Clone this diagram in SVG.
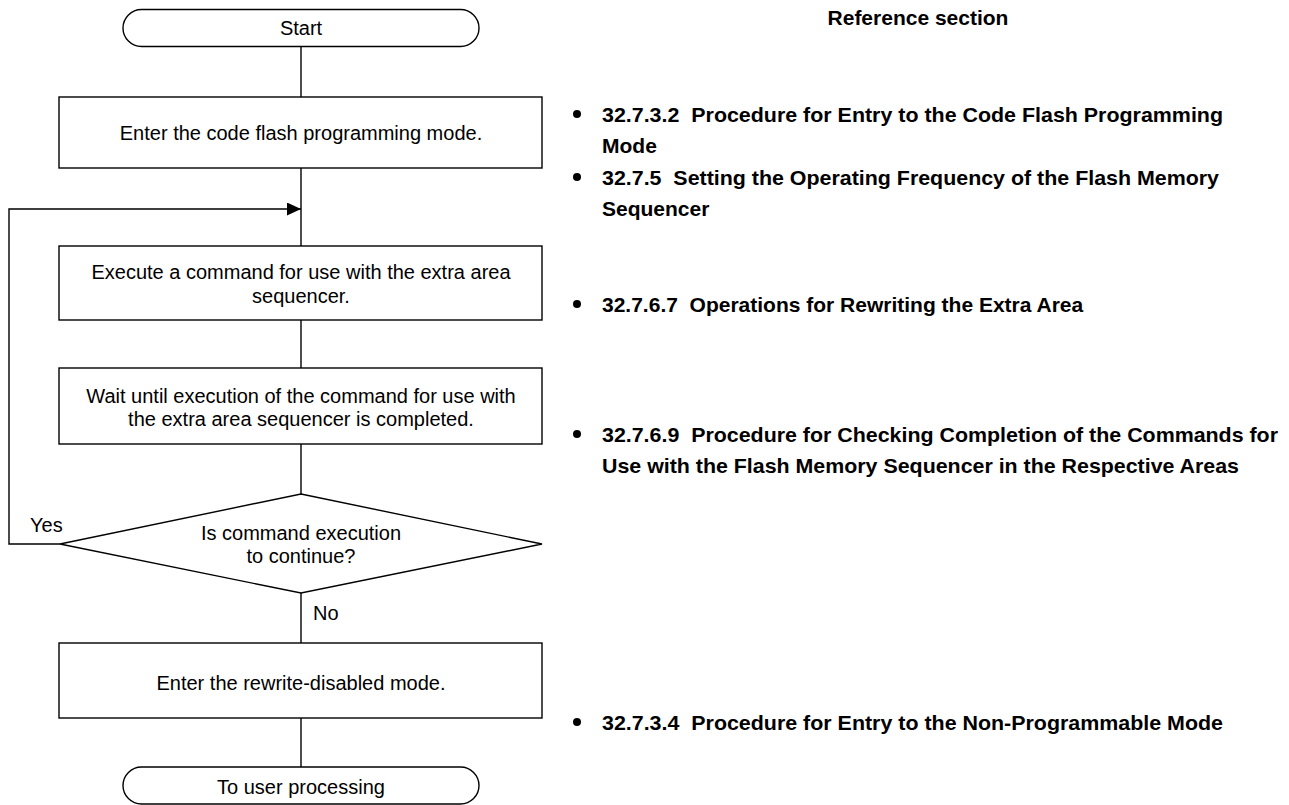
<svg xmlns="http://www.w3.org/2000/svg" width="1289" height="805" viewBox="0 0 1289 805">
<style>
.shape{fill:#fff;stroke:#000;stroke-width:1.4}
.conn{fill:none;stroke:#000;stroke-width:1.4}
.t{font-family:"Liberation Sans",Arial,sans-serif;font-size:20px;fill:#000;text-anchor:middle}
.lbl{font-family:"Liberation Sans",Arial,sans-serif;font-size:20px;fill:#000}
.r{font-family:"Liberation Sans",Arial,sans-serif;font-size:21px;font-weight:bold;fill:#000;white-space:pre}
</style>
<defs>
<marker id="ah" markerWidth="14" markerHeight="13" refX="14" refY="6.5" orient="auto" markerUnits="userSpaceOnUse">
<path d="M0,0 L14,6.5 L0,13 Z" fill="#000"/>
</marker>
</defs>
<rect width="1289" height="805" fill="#fff"/>
<g id="connectors">
<line class="conn" x1="301" y1="46.5" x2="301" y2="97"/>
<line class="conn" x1="301" y1="168" x2="301" y2="246"/>
<line class="conn" x1="301" y1="320" x2="301" y2="368"/>
<line class="conn" x1="301" y1="444" x2="301" y2="494"/>
<line class="conn" x1="301" y1="593" x2="301" y2="643"/>
<line class="conn" x1="301" y1="718" x2="301" y2="767"/>
<polyline class="conn" points="60,544 9,544 9,209 301,209" marker-end="url(#ah)"/>
<text class="lbl" x="30" y="532">Yes</text>
<text class="lbl" x="313" y="620">No</text>
</g>
<g id="start">
<rect class="shape" x="123" y="9.5" width="356" height="37" rx="18.5" ry="18.5"/>
<text class="t" x="301" y="35">Start</text>
</g>
<g id="step1">
<rect class="shape" x="59" y="97" width="483" height="71"/>
<text class="t" x="301" y="140">Enter the code flash programming mode.</text>
</g>
<g id="step2">
<rect class="shape" x="59" y="246" width="483" height="74"/>
<text class="t" x="301" y="279">Execute a command for use with the extra area</text>
<text class="t" x="301" y="302.5">sequencer.</text>
</g>
<g id="step3">
<rect class="shape" x="59" y="368" width="483" height="76"/>
<text class="t" x="301" y="403">Wait until execution of the command for use with</text>
<text class="t" x="301" y="426">the extra area sequencer is completed.</text>
</g>
<g id="decision">
<polygon class="shape" points="301,494 542,544 301,593 60,544"/>
<text class="t" x="301" y="540">Is command execution</text>
<text class="t" x="301" y="563">to continue?</text>
</g>
<g id="step4">
<rect class="shape" x="59" y="643" width="483" height="75"/>
<text class="t" x="301" y="690">Enter the rewrite-disabled mode.</text>
</g>
<g id="end">
<rect class="shape" x="123" y="767" width="356" height="37" rx="18.5" ry="18.5"/>
<text class="t" x="301" y="794">To user processing</text>
</g>
<g id="references">
<text class="r" x="918" y="25" text-anchor="middle">Reference section</text>
<circle cx="577" cy="114" r="4"/>
<text class="r" x="602" y="122" textLength="621" lengthAdjust="spacingAndGlyphs">32.7.3.2  Procedure for Entry to the Code Flash Programming</text>
<text class="r" x="602" y="153">Mode</text>
<circle cx="577" cy="177" r="4"/>
<text class="r" x="602" y="185" textLength="617" lengthAdjust="spacingAndGlyphs">32.7.5  Setting the Operating Frequency of the Flash Memory</text>
<text class="r" x="602" y="216">Sequencer</text>
<circle cx="577" cy="304" r="4"/>
<text class="r" x="602" y="312">32.7.6.7  Operations for Rewriting the Extra Area</text>
<circle cx="577" cy="434" r="4"/>
<text class="r" x="602" y="442" textLength="676" lengthAdjust="spacingAndGlyphs">32.7.6.9  Procedure for Checking Completion of the Commands for</text>
<text class="r" x="602" y="473" textLength="637" lengthAdjust="spacingAndGlyphs">Use with the Flash Memory Sequencer in the Respective Areas</text>
<circle cx="577" cy="722" r="4"/>
<text class="r" x="602" y="730" textLength="621" lengthAdjust="spacingAndGlyphs">32.7.3.4  Procedure for Entry to the Non-Programmable Mode</text>
</g>
</svg>
